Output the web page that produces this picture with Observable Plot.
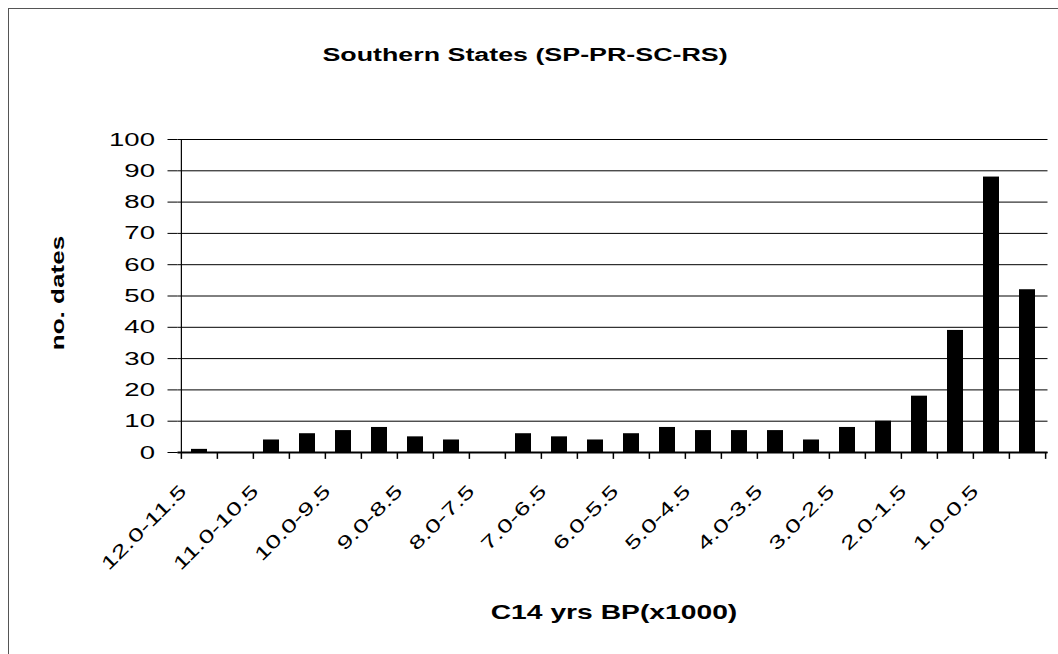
<!DOCTYPE html>
<html><head><meta charset="utf-8">
<script src="https://cdn.jsdelivr.net/npm/d3@7"></script>
<script src="https://cdn.jsdelivr.net/npm/@observablehq/plot@0.6"></script>
<style>
body{margin:0;background:#fff;}
#wrap{position:relative;width:1058px;height:654px;overflow:hidden;background:#fff;}
#border{position:absolute;left:7.5px;top:7.5px;right:-20px;bottom:-20px;border-left:1.5px solid #555;border-top:1.5px solid #555;}
#chart{position:absolute;left:0;top:0;}
</style></head><body>
<div id="wrap"><div id="border"></div><div id="chart"></div></div>
<script>
const categories = ["12.0-11.5","11.5-11.0","11.0-10.5","10.5-10.0","10.0-9.5","9.5-9.0","9.0-8.5","8.5-8.0","8.0-7.5","7.5-7.0","7.0-6.5","6.5-6.0","6.0-5.5","5.5-5.0","5.0-4.5","4.5-4.0","4.0-3.5","3.5-3.0","3.0-2.5","2.5-2.0","2.0-1.5","1.5-1.0","1.0-0.5","0.5-0.0"];
const counts = [1,0,4,6,7,8,5,4,0,6,5,4,6,8,7,7,7,4,8,10,18,39,88,52];
const tickLabels = categories.filter((d, i) => i % 2 === 0);
const yTicks = [0,10,20,30,40,50,60,70,80,90,100];
const title = "Southern States (SP-PR-SC-RS)";
const xTitle = "C14 yrs BP(x1000)";
const yTitle = "no. dates";

const data = categories.map((c, i) => ({range: c, count: counts[i]}));
const W = 1058, H = 654, mL = 177.5, mR = 10.5, mT = 139, mB = 202;
const step = (W - mL - mR) / categories.length;
const font = "'Liberation Sans', Arial, sans-serif";
const S = 1.45; // horizontal stretch of glyphs along text direction

const chart = Plot.plot({
  width: W, height: H, marginLeft: mL, marginRight: mR, marginTop: mT, marginBottom: mB,
  style: {fontFamily: font, background: "transparent", color: "#000"},
  x: {type: "band", domain: categories, padding: 0, axis: null},
  y: {domain: [0, 100], axis: null},
  marks: [
    Plot.gridY(yTicks, {stroke: "#000", strokeOpacity: 1, strokeWidth: 1}),
    Plot.axisY(yTicks, {tickSize: 10, tickPadding: 13, fontSize: 19, label: null, stroke: "#000", fill: "#000"}),
    Plot.barY(data, {x: "range", y: "count", fill: "#000", insetLeft: 10, insetRight: 10}),
    Plot.ruleX(categories.slice(0, 1), {x: d => d, dx: -step / 2, stroke: "#000", strokeWidth: 1.2}),
    Plot.ruleY([0], {stroke: "#000", strokeWidth: 2}),
    Plot.ruleX(categories, {x: d => d, dx: -step / 2, y1: 0, y2: -2.2, stroke: "#000", strokeWidth: 1.5}),
    Plot.ruleX(categories.slice(-1), {x: d => d, dx: step / 2, y1: 0, y2: -2.2, stroke: "#000", strokeWidth: 1.5}),
    Plot.text(tickLabels, {x: d => d, y: 0, dx: -12, dy: 40, rotate: -45, textAnchor: "end", lineAnchor: "bottom", fontSize: 18.5, fill: "#000"}),
    Plot.text([title], {frameAnchor: "top", dx: -88, dy: -79, textAnchor: "middle", lineAnchor: "bottom", fontWeight: "bold", fontSize: 18.5, fill: "#000"}),
    Plot.text([xTitle], {frameAnchor: "bottom", dx: 1, dy: 166, textAnchor: "middle", lineAnchor: "bottom", fontWeight: "bold", fontSize: 19.5, fill: "#000"}),
    Plot.text([yTitle], {frameAnchor: "left", dx: -120, dy: -3, rotate: -90, textAnchor: "middle", lineAnchor: "middle", fontWeight: "bold", fontSize: 18, fill: "#000"})
  ]
});

chart.querySelectorAll("text").forEach(t => {
  const tr = t.getAttribute("transform");
  if (tr) t.setAttribute("transform", tr + ` scale(${S},1)`);
});
document.getElementById("chart").appendChild(chart);
</script>
</body></html>
